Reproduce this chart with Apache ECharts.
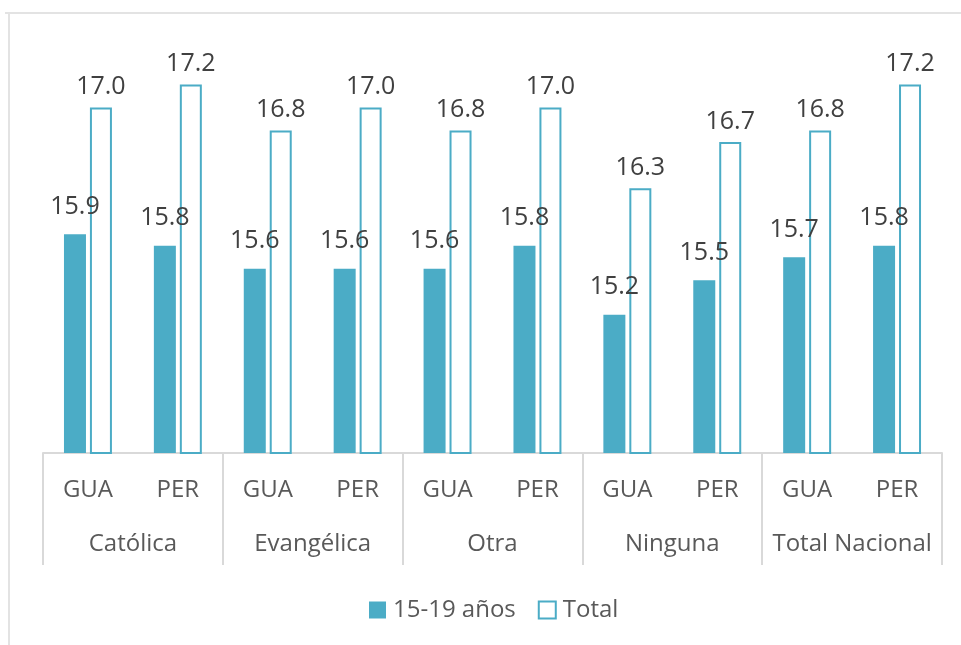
<!DOCTYPE html>
<html>
<head>
<meta charset="utf-8">
<script src="https://cdn.jsdelivr.net/npm/echarts@6/dist/echarts.min.js"></script>
<style>
  html, body { margin: 0; padding: 0; background: #fff; }
  #main { width: 961px; height: 645px; }
</style>
</head>
<body>
<div id="main"></div>
<script>
// datos
var countries = ['GUA', 'PER', 'GUA', 'PER', 'GUA', 'PER', 'GUA', 'PER', 'GUA', 'PER']
var groups = ['Católica', 'Evangélica', 'Otra', 'Ninguna', 'Total Nacional']
var edad1519 = [15.9, 15.8, 15.6, 15.6, 15.6, 15.8, 15.2, 15.5, 15.7, 15.8]
var total = [17.0, 17.2, 16.8, 17.0, 16.8, 17.0, 16.3, 16.7, 16.8, 17.2]

var teal = '#4BACC6'
var font = 'Open Sans'

var chart = echarts.init(document.getElementById('main'))

var option = {
  animation: false,
  textStyle: { fontFamily: font },
  graphic: [
    { type: 'line', shape: { x1: 5, y1: 13, x2: 961, y2: 13 }, style: { stroke: '#e3e3e3', lineWidth: 2 } },
    { type: 'line', shape: { x1: 9, y1: 13, x2: 9, y2: 645 }, style: { stroke: '#e3e3e3', lineWidth: 2 } }
  ],
  legend: {
    top: 593,
    left: 364,
    icon: 'rect',
    itemWidth: 17,
    itemHeight: 17,
    itemGap: 22,
    textStyle: { fontSize: 24, color: '#595959', fontFamily: font, padding: [0, 0, 0, 2] },
    data: [
      { name: '15-19 años', itemStyle: { color: teal } },
      { name: 'Total', itemStyle: { color: '#fff', borderColor: teal, borderWidth: 2 } }
    ]
  },
  grid: {
    left: 43,
    right: 19,
    top: 50,
    bottom: 192
  },
  xAxis: [{
    type: 'category',
    data: countries,
    position: 'bottom',
    axisLine: { lineStyle: { color: '#d9d9d9', width: 2 } },
    axisTick: { show: false },
    axisLabel: { interval: 0, margin: 25, fontSize: 24, color: '#595959', fontFamily: font }
  }, {
    type: 'category',
    data: groups,
    position: 'bottom',
    axisLine: { show: false },
    axisTick: { show: true, interval: 0, length: 112, lineStyle: { color: '#d9d9d9', width: 2 } },
    axisLabel: { interval: 0, margin: 79, fontSize: 24, color: '#595959', fontFamily: font }
  }],
  yAxis: {
    type: 'value',
    min: 14,
    max: 17.5,
    show: false,
    splitLine: { show: false }
  },
  series: [{
    name: '15-19 años',
    type: 'bar',
    xAxisIndex: 0,
    barWidth: 22,
    barGap: '18%',
    data: edad1519,
    itemStyle: { color: teal },
    label: {
      show: true,
      position: 'top',
      distance: 15,
      fontSize: 25,
      color: '#404040',
      fontFamily: font,
      formatter: function (p) { return p.value.toFixed(1) }
    }
  }, {
    name: 'Total',
    type: 'bar',
    xAxisIndex: 0,
    barWidth: 22,
    data: total,
    itemStyle: { color: '#fff', borderColor: teal, borderWidth: 2 },
    label: {
      show: true,
      position: 'top',
      distance: 8,
      fontSize: 25,
      color: '#404040',
      fontFamily: font,
      formatter: function (p) { return p.value.toFixed(1) }
    }
  }]
}

chart.setOption(option)
</script>
</body>
</html>
